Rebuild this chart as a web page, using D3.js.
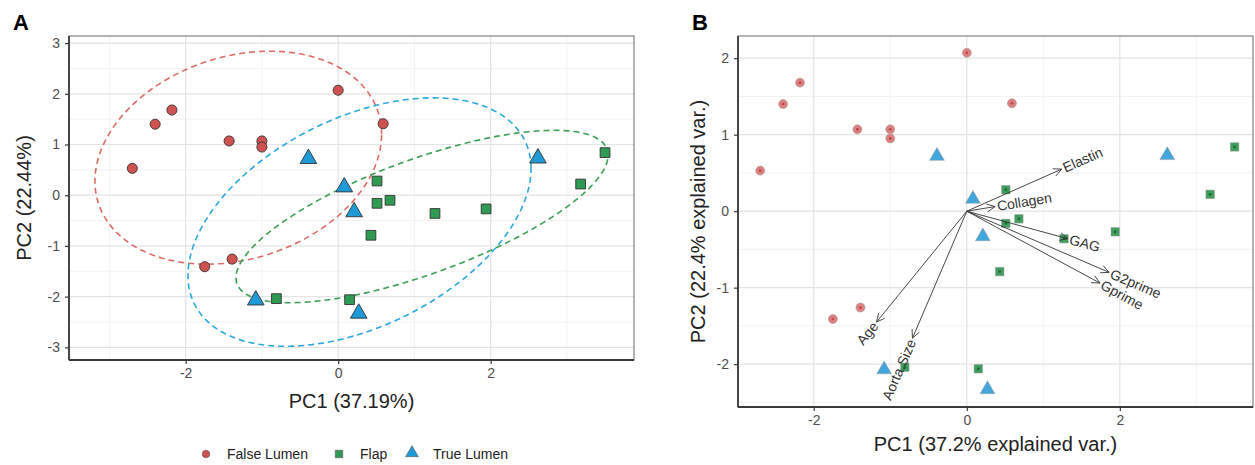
<!DOCTYPE html>
<html>
<head>
<meta charset="utf-8">
<script src="https://cdn.jsdelivr.net/npm/d3@7"></script>
<style>
  body { margin: 0; background: #fff; }
  svg { font-family: "Liberation Sans", Arial, sans-serif; }
</style>
</head>
<body>
<svg id="chart" width="1255" height="465"></svg>
<script>
// scores (PC1, PC2) per group
const groups = ["False Lumen", "Flap", "True Lumen"];
const falseLumenPC1 = [-2.70, -2.40, -2.18, -1.43, -1.00, -1.00, 0.00, 0.59, -1.75, -1.39];
const falseLumenPC2 = [0.53, 1.40, 1.68, 1.07, 1.07, 0.95, 2.07, 1.41, -1.41, -1.26];
const flapPC1 = [3.50, 3.18, 0.51, 0.51, 0.68, 1.27, 1.94, 0.43, -0.81, 0.15];
const flapPC2 = [0.84, 0.22, 0.28, -0.16, -0.10, -0.36, -0.27, -0.79, -2.04, -2.06];
const trueLumenPC1 = [-0.39, 2.62, 0.08, 0.21, -1.08, 0.27];
const trueLumenPC2 = [0.72, 0.73, 0.16, -0.33, -2.07, -2.33];

// confidence ellipses (same group order): centre, half extents and correlation
const ellipseCx = [-1.31, 1.10, 0.28];
const ellipseCy = [0.74, -0.42, -0.53];
const ellipseWx = [1.88, 2.44, 2.25];
const ellipseWy = [2.10, 1.70, 2.45];
const ellipseRho = [0.22, 0.71, 0.43];

// biplot loadings
const loadingNames = ["Elastin", "Collagen", "GAG", "G2prime", "Gprime", "Age", "Aorta.Size"];
const loadingPC1 = [1.24, 0.37, 1.32, 1.86, 1.74, -1.18, -0.71];
const loadingPC2 = [0.55, 0.06, -0.36, -0.80, -0.94, -1.45, -1.66];

const ticks = [-3, -2, -1, 0, 1, 2, 3];

const fillA = ["#cf5150", "#2e9a52", "#1e9ad6"];
const lineA = ["#e06a66", "#3aa157", "#2aa9e0"];
const fillB = ["#df8080", "#3f9f5d", "#41a6dc"];
const dotB = ["#b54a4a", "#1f6b36", "#2b85b8"];

const pcX = [falseLumenPC1, flapPC1, trueLumenPC1];
const pcY = [falseLumenPC2, flapPC2, trueLumenPC2];
const points = [];
groups.forEach((g, gi) => {
    pcX[gi].forEach((v, i) => points.push({ g: gi, x: v, y: pcY[gi][i] }));
});

const svg = d3.select('#chart');
const symbols = [d3.symbolCircle, d3.symbolSquare, d3.symbolTriangle];

function panel(opts) {
    const x = d3.scaleLinear().domain(opts.xdom).range([opts.left, opts.right]);
    const y = d3.scaleLinear().domain(opts.ydom).range([opts.bottom, opts.top]);
    const g = svg.append('g');

    g.append('rect')
        .attr('x', opts.left).attr('y', opts.top)
        .attr('width', opts.right - opts.left)
        .attr('height', opts.bottom - opts.top)
        .attr('fill', '#fff');

    const minorX = d3.range(-4, 5, 1).filter(v => v % 2 !== 0 && v > opts.xdom[0] && v < opts.xdom[1]);
    const majorX = d3.range(-4, 5, 2).filter(v => v > opts.xdom[0] && v < opts.xdom[1]);
    const minorY = d3.range(-3.5, 4, 1).filter(v => v > opts.ydom[0] && v < opts.ydom[1]);
    const majorY = opts.yticks;

    g.selectAll('.gx-minor').data(minorX).join('line')
        .attr('x1', d => x(d)).attr('x2', d => x(d))
        .attr('y1', opts.top).attr('y2', opts.bottom)
        .attr('stroke', '#f2f2f2').attr('stroke-width', 1);
    g.selectAll('.gy-minor').data(minorY).join('line')
        .attr('y1', d => y(d)).attr('y2', d => y(d))
        .attr('x1', opts.left).attr('x2', opts.right)
        .attr('stroke', '#f2f2f2').attr('stroke-width', 1);
    g.selectAll('.gx-major').data(majorX).join('line')
        .attr('x1', d => x(d)).attr('x2', d => x(d))
        .attr('y1', opts.top).attr('y2', opts.bottom)
        .attr('stroke', '#e3e3e3').attr('stroke-width', 1.2);
    g.selectAll('.gy-major').data(majorY).join('line')
        .attr('y1', d => y(d)).attr('y2', d => y(d))
        .attr('x1', opts.left).attr('x2', opts.right)
        .attr('stroke', '#e3e3e3').attr('stroke-width', 1.2);

    g.append('rect')
        .attr('x', opts.left).attr('y', opts.top)
        .attr('width', opts.right - opts.left)
        .attr('height', opts.bottom - opts.top)
        .attr('fill', 'none').attr('stroke', '#6b6b6b').attr('stroke-width', 1);

    // axes, plain hyphen minus like the original
    const fmt = d => String(d);
    const xAxis = d3.axisBottom(x).tickValues(majorX).tickSize(4).tickPadding(4).tickFormat(fmt);
    const yAxis = d3.axisLeft(y).tickValues(majorY).tickSize(4).tickPadding(5).tickFormat(fmt);
    const ax = g.append('g').attr('transform', `translate(0,${opts.bottom})`).call(xAxis);
    const ay = g.append('g').attr('transform', `translate(${opts.left},0)`).call(yAxis);
    [ax, ay].forEach(a => {
        a.select('.domain').attr('stroke', '#3a3a3a').attr('stroke-width', 1.8);
        a.selectAll('.tick line').attr('stroke', '#3a3a3a').attr('stroke-width', 1.2);
        a.selectAll('.tick text').attr('fill', '#4d4d4d').style('font-size', '14px')
            .style('font-family', '"Liberation Sans", Arial, sans-serif');
    });
    ax.select('.domain').attr('d', `M${opts.left},0H${opts.right}`);
    ay.select('.domain').attr('d', `M0,${opts.bottom}V${opts.top}`);

    g.append('text')
        .attr('x', (opts.left + opts.right) / 2).attr('y', opts.xTitleY)
        .attr('text-anchor', 'middle').attr('fill', '#222')
        .style('font-size', '20px').text(opts.xTitle);
    g.append('text')
        .attr('transform', `translate(${opts.yTitleX},${(opts.top + opts.bottom) / 2}) rotate(-90)`)
        .attr('text-anchor', 'middle').attr('fill', '#222')
        .style('font-size', '20px').text(opts.yTitle);
    g.append('text')
        .attr('x', opts.letterX).attr('y', 30)
        .attr('fill', '#000').style('font-size', '22px').style('font-weight', 'bold')
        .text(opts.letter);

    return { g, x, y };
}

// ---------- Panel A ----------
const A = panel({
    left: 69, right: 634, top: 36, bottom: 360,
    xdom: [-3.53, 3.88], ydom: [-3.25, 3.14], yticks: ticks,
    xTitle: 'PC1 (37.19%)', yTitle: 'PC2 (22.44%)',
    xTitleY: 408, yTitleX: 31, letter: 'A', letterX: 13
});

const ellipseLine = d3.line().x(d => A.x(d[0])).y(d => A.y(d[1]));
groups.forEach((grp, i) => {
    const s = Math.sqrt(1 - ellipseRho[i] * ellipseRho[i]);
    const pts = d3.range(0, 2 * Math.PI + 0.001, Math.PI / 90).map(t => [
        ellipseCx[i] + ellipseWx[i] * Math.cos(t),
        ellipseCy[i] + ellipseWy[i] * (ellipseRho[i] * Math.cos(t) + s * Math.sin(t))
    ]);
    A.g.append('path')
        .attr('d', ellipseLine(pts))
        .attr('fill', 'none')
        .attr('stroke', lineA[i])
        .attr('stroke-width', 1.6)
        .attr('stroke-dasharray', '6,4');
});

const sizeA = [80, 95, 120];
A.g.selectAll('.ptA').data(points).join('path')
    .attr('transform', d => `translate(${A.x(d.x)},${A.y(d.y)})`)
    .attr('d', d => d3.symbol(symbols[d.g], sizeA[d.g])())
    .attr('fill', d => fillA[d.g])
    .attr('stroke', '#333').attr('stroke-width', 0.9);

// legend
const legendX = [206, 339, 412];
const legendG = svg.append('g');
groups.forEach((grp, i) => {
    legendG.append('path')
        .attr('transform', `translate(${legendX[i]},${i === 2 ? 453 : 454})`)
        .attr('d', d3.symbol(symbols[i], [45, 55, 70][i])())
        .attr('fill', fillA[i]).attr('stroke', '#555').attr('stroke-width', 0.6);
    legendG.append('text')
        .attr('x', legendX[i] + 21).attr('y', 459)
        .attr('fill', '#222').style('font-size', '14px')
        .text(grp);
});

// ---------- Panel B ----------
const B = panel({
    left: 738, right: 1253, top: 36, bottom: 407,
    xdom: [-2.99, 3.74], ydom: [-2.56, 2.29], yticks: [-2, -1, 0, 1, 2],
    xTitle: 'PC1 (37.2% explained var.)', yTitle: 'PC2 (22.4% explained var.)',
    xTitleY: 451, yTitleX: 705, letter: 'B', letterX: 692
});

const sizeB = [64, 72, 95];
B.g.selectAll('.ptB').data(points).join('path')
    .attr('transform', d => `translate(${B.x(d.x)},${B.y(d.y)})`)
    .attr('d', d => d3.symbol(symbols[d.g], sizeB[d.g])())
    .attr('fill', d => fillB[d.g])
    .attr('stroke', '#9a9a9a').attr('stroke-width', 0.5);
B.g.selectAll('.dotB').data(points.filter(d => d.g < 2)).join('circle')
    .attr('cx', d => B.x(d.x)).attr('cy', d => B.y(d.y))
    .attr('r', 1.4).attr('fill', d => dotB[d.g]);

// loading arrows
const ox = B.x(0), oy = B.y(0);
loadingNames.forEach((name, i) => {
    const tx = B.x(loadingPC1[i]), ty = B.y(loadingPC2[i]);
    const ang = Math.atan2(ty - oy, tx - ox);
    const head = 9, spread = Math.PI / 7;
    B.g.append('line')
        .attr('x1', ox).attr('y1', oy).attr('x2', tx).attr('y2', ty)
        .attr('stroke', '#333').attr('stroke-width', 0.9);
    B.g.append('path')
        .attr('d', `M${tx - head * Math.cos(ang - spread)},${ty - head * Math.sin(ang - spread)}` +
            `L${tx},${ty}L${tx - head * Math.cos(ang + spread)},${ty - head * Math.sin(ang + spread)}`)
        .attr('fill', 'none').attr('stroke', '#333').attr('stroke-width', 0.9);
    const deg = Math.atan(loadingPC2[i] / loadingPC1[i]) * 180 / Math.PI;
    const right = loadingPC1[i] > 0;
    B.g.append('text')
        .attr('transform', `translate(${tx},${ty}) rotate(${-deg})`)
        .attr('x', right ? 2 : -2)
        .attr('dy', '0.35em')
        .attr('text-anchor', right ? 'start' : 'end')
        .attr('fill', '#333').style('font-size', '14px')
        .text(name);
});
</script>
</body>
</html>
